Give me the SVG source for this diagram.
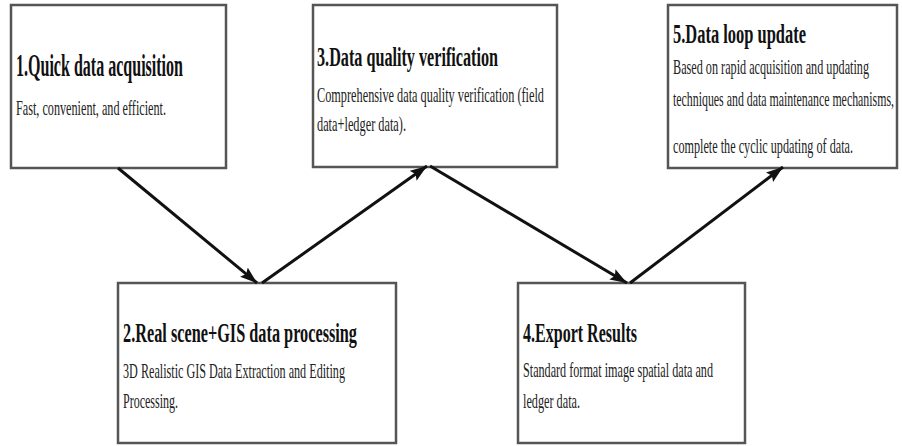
<svg xmlns="http://www.w3.org/2000/svg" width="902" height="446" viewBox="0 0 902 446">
<style>
.box{fill:#fff;stroke:#555;stroke-width:2.5}
.t{font-family:"Liberation Serif","Times New Roman",serif;font-weight:bold;font-size:27px;fill:#111}
.b{font-family:"Liberation Serif","Times New Roman",serif;font-size:22px;fill:#222}
.c{stroke:#111;stroke-width:3;fill:none}
</style>
<defs>
<marker id="ah" markerUnits="userSpaceOnUse" markerWidth="17" markerHeight="12" refX="17" refY="6" orient="auto">
<path d="M0,0 L17,6 L0,12 L3,6 z" fill="#111"/>
</marker>
</defs>
<rect width="902" height="446" fill="#fff"/>
<g id="node1">
<rect class="box" x="11" y="5" width="215" height="163"/>
<text class="t" x="16" y="76" style="font-size:32px" textLength="167" lengthAdjust="spacingAndGlyphs">1.Quick data acquisition</text>
<text class="b" x="16" y="115" textLength="150" lengthAdjust="spacingAndGlyphs">Fast, convenient, and efficient.</text>
</g>
<g id="node3">
<rect class="box" x="313" y="5" width="244" height="162"/>
<text class="t" x="317" y="66" textLength="181" lengthAdjust="spacingAndGlyphs">3.Data quality verification</text>
<text class="b" x="317" y="102" textLength="227" lengthAdjust="spacingAndGlyphs">Comprehensive data quality verification (field</text>
<text class="b" x="317" y="131" textLength="89" lengthAdjust="spacingAndGlyphs">data+ledger data).</text>
</g>
<g id="node5">
<rect class="box" x="668" y="5" width="229" height="163"/>
<text class="t" x="673" y="43" textLength="133" lengthAdjust="spacingAndGlyphs">5.Data loop update</text>
<text class="b" x="673" y="74" textLength="196" lengthAdjust="spacingAndGlyphs">Based on rapid acquisition and updating</text>
<text class="b" x="673" y="106" textLength="221" lengthAdjust="spacingAndGlyphs">techniques and data maintenance mechanisms,</text>
<text class="b" x="673" y="153" textLength="180" lengthAdjust="spacingAndGlyphs">complete the cyclic updating of data.</text>
</g>
<g id="node2">
<rect class="box" x="118" y="283" width="278" height="160"/>
<text class="t" x="123" y="342" textLength="234" lengthAdjust="spacingAndGlyphs">2.Real scene+GIS data processing</text>
<text class="b" x="123" y="378" textLength="222" lengthAdjust="spacingAndGlyphs">3D Realistic GIS Data Extraction and Editing</text>
<text class="b" x="123" y="408" textLength="55" lengthAdjust="spacingAndGlyphs">Processing.</text>
</g>
<g id="node4">
<rect class="box" x="518" y="283" width="227" height="160"/>
<text class="t" x="523" y="342" textLength="114" lengthAdjust="spacingAndGlyphs">4.Export Results</text>
<text class="b" x="523" y="377" textLength="190" lengthAdjust="spacingAndGlyphs">Standard format image spatial data and</text>
<text class="b" x="523" y="408" textLength="57" lengthAdjust="spacingAndGlyphs">ledger data.</text>
</g>
<g id="connectors">
<line class="c" x1="118" y1="168" x2="257" y2="283" marker-end="url(#ah)"/>
<line class="c" x1="262" y1="283" x2="427" y2="166" marker-end="url(#ah)"/>
<line class="c" x1="430" y1="166" x2="627" y2="283" marker-end="url(#ah)"/>
<line class="c" x1="630" y1="283" x2="783" y2="167" marker-end="url(#ah)"/>
</g>
</svg>
